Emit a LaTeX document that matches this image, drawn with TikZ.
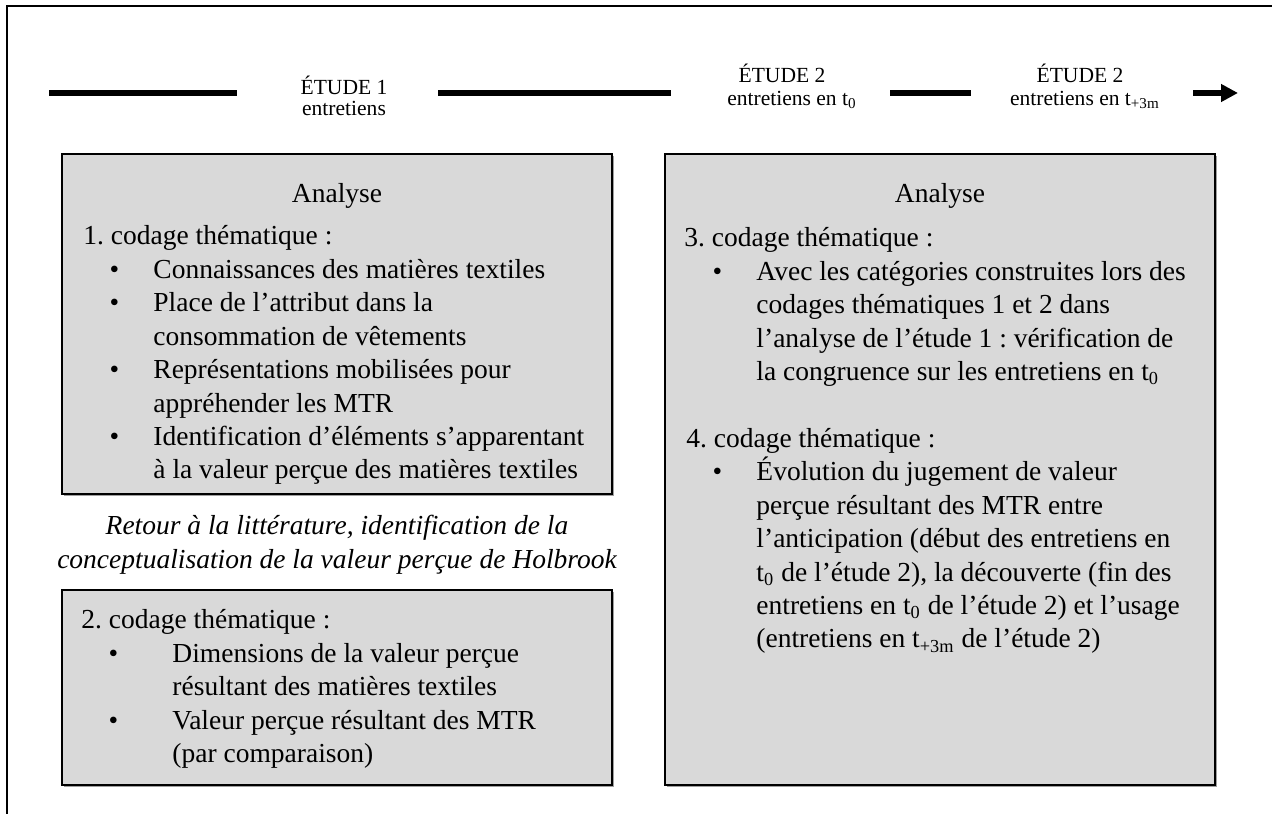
\documentclass[tikz,border=0pt]{standalone}
\usepackage{fontspec}
\setmainfont{Liberation Serif}
\usetikzlibrary{arrows.meta,shadows}
\frenchspacing

\newdimen\unitpx
\unitpx=0.4364pt
\definecolor{fondgris}{RGB}{217,217,217}

\newlength{\posbullet}
\newlength{\postexte}
\newcommand{\retraits}[2]{\setlength{\posbullet}{#1}\setlength{\postexte}{#2}}
\newcommand{\puce}{\hspace*{\posbullet}\makebox[0pt]{\textbullet}\hspace*{\dimexpr\postexte-\posbullet\relax}}
\newcommand{\suite}{\hspace*{\postexte}}

\begin{document}
\begin{tikzpicture}[x=0.4364pt, y=-0.4364pt,
	boite/.style={draw, line width=0.9pt, fill=fondgris,
		drop shadow={shadow xshift=0.7pt, shadow yshift=-0.7pt, fill=black!75}},
	texte/.style={anchor=base west, inner sep=0pt, font=\fontsize{12}{14.58}\selectfont},
	titre/.style={anchor=base, inner sep=0pt, font=\fontsize{12}{14.58}\selectfont},
	etude/.style={anchor=base, inner sep=0pt, font=\fontsize{9.4}{11}\selectfont},
	trait/.style={line width=2.2pt}]
	\useasboundingbox (0,0) rectangle (1272,814);
	\clip (0,0) rectangle (1272,814);
	\draw[line width=0.9pt] (7,830) -- (7,6) -- (1290,6);

	\node[etude] (E1) at (344,95) {ÉTUDE 1};
	\node[etude] (E1b) at (344,116) {entretiens};
	\node[etude] (E2) at (782,83) {ÉTUDE 2};
	\node[etude] (E2b) at (792,106) {entretiens en t\textsubscript{0}};
	\node[etude] (E3) at (1080,83) {ÉTUDE 2};
	\node[etude] (E3b) at (1085,106) {entretiens en t\textsubscript{+3m}};

	\coordinate (d1) at (49,93);
	\coordinate (f1) at (237,93);
	\coordinate (d2) at (438,93);
	\coordinate (f2) at (671,93);
	\coordinate (d3) at (890,93);
	\coordinate (f3) at (971,93);
	\coordinate (d4) at (1193,93);
	\coordinate (f4) at (1238,93);

	\draw[trait] (d1) -- (f1);
	\draw[trait] (d2) -- (f2);
	\draw[trait] (d3) -- (f3);
	\draw[trait, -{Triangle[length=7.4pt, width=7.4pt]}] (d4) -- (f4);

	\node[boite, minimum width=550\unitpx, minimum height=340\unitpx] (B1) at (337,324) {};
	\node[boite, minimum width=550\unitpx, minimum height=195\unitpx] (B2) at (337,687.5) {};
	\node[boite, minimum width=550\unitpx, minimum height=631\unitpx] (B3) at (940,469.5) {};

	\node[titre] (A1) at (337,203) {Analyse};
	\node[texte] (C1) at (83,245) {\parbox[t]{560\unitpx}{\raggedright\retraits{31\unitpx}{70\unitpx}%
		1. codage thématique :\\
		\puce Connaissances des matières textiles\\
		\puce Place de l’attribut dans la\\
		\suite consommation de vêtements\\
		\puce Représentations mobilisées pour\\
		\suite appréhender les MTR\\
		\puce Identification d’éléments s’apparentant\\
		\suite à la valeur perçue des matières textiles}};

	\node[titre] (R1) at (337,535) {\parbox[t]{640\unitpx}{\centering\itshape
		Retour à la littérature, identification de la\\
		conceptualisation de la valeur perçue de Holbrook}};

	\node[texte] (C2) at (81,629) {\parbox[t]{560\unitpx}{\raggedright\retraits{32\unitpx}{91\unitpx}%
		2. codage thématique :\\
		\puce Dimensions de la valeur perçue\\
		\suite résultant des matières textiles\\
		\puce Valeur perçue résultant des MTR\\
		\suite (par comparaison)}};

	\node[titre] (A2) at (940,203) {Analyse};
	\node[texte] (C3) at (684,247) {\parbox[t]{560\unitpx}{\raggedright\retraits{33\unitpx}{72\unitpx}%
		3. codage thématique :\\
		\puce Avec les catégories construites lors des\\
		\suite codages thématiques 1 et 2 dans\\
		\suite l’analyse de l’étude 1 : vérification de\\
		\suite la congruence sur les entretiens en t\textsubscript{0}\\[14.58pt]
		\hspace*{2\unitpx}4. codage thématique :\\
		\puce Évolution du jugement de valeur\\
		\suite perçue résultant des MTR entre\\
		\suite l’anticipation (début des entretiens en\\
		\suite t\textsubscript{0} de l’étude 2), la découverte (fin des\\
		\suite entretiens en t\textsubscript{0} de l’étude 2) et l’usage\\
		\suite (entretiens en t\textsubscript{+3m} de l’étude 2)}};
\end{tikzpicture}
\end{document}
